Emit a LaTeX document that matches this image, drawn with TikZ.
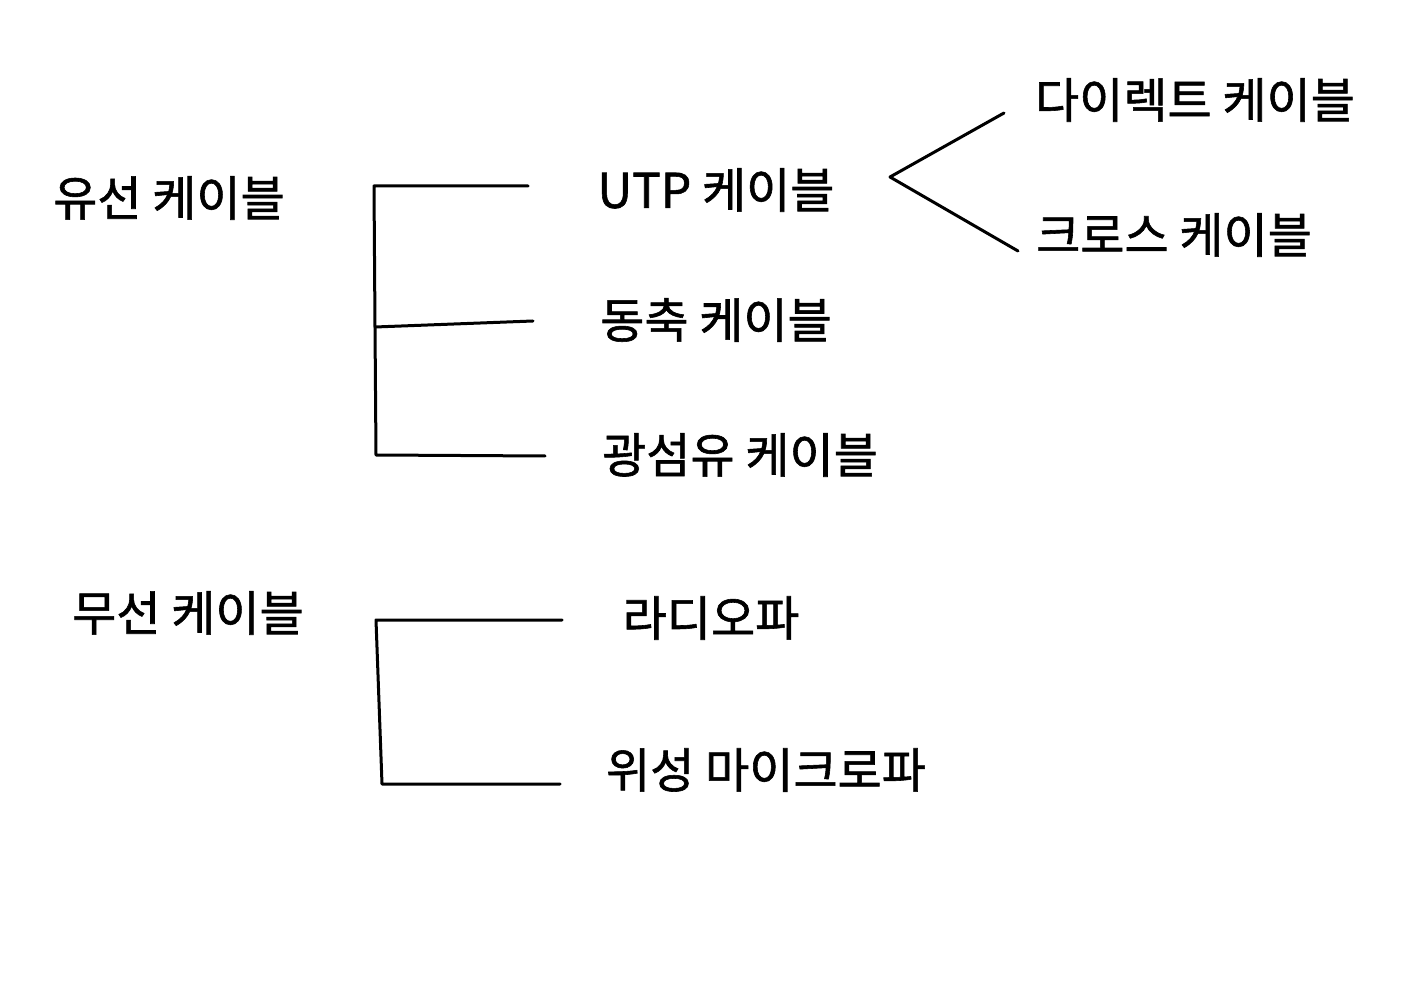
\documentclass[tikz,border=0pt]{standalone}
\usepackage{fontspec}
\newfontfamily\kr[FakeBold=1.2]{Noto Sans CJK KR}
\begin{document}
\begin{tikzpicture}[x=0.5pt,y=-0.5pt,
  lbl/.style={font=\kr\fontsize{24}{27}\selectfont, inner sep=0pt, anchor=center},
  ln/.style={line width=1.5pt, line cap=round, line join=round}]
\useasboundingbox[fill=white] (0,0) rectangle (1415,1000);
% labels
\node[lbl] (wired) at (169,198) {유선 케이블};
\node[lbl] (wireless) at (188,613) {무선 케이블};
\node[lbl] (utp) at (716,190) {UTP 케이블};
\node[lbl] (coax) at (716,320) {동축 케이블};
\node[lbl] (fiber) at (740,455) {광섬유 케이블};
\node[lbl] (direct) at (1195,100) {다이렉트 케이블};
\node[lbl] (cross) at (1174,235) {크로스 케이블};
\node[lbl] (radio) at (711,618) {라디오파};
\node[lbl] (micro) at (766,770) {위성 마이크로파};
% wired tree
\coordinate (wt) at (374,186);
\coordinate (wm) at (375,327);
\coordinate (wb) at (376,455);
\coordinate (e1) at (528,186);
\coordinate (e2) at (533,321);
\coordinate (e3) at (545,456);
\draw[ln] (e1) -- (wt) -- (wm) -- (wb) -- (e3);
\draw[ln] (wm) -- (e2);
% UTP fork
\coordinate (fk) at (890,177);
\coordinate (f1) at (1004,113);
\coordinate (f2) at (1018,251);
\draw[ln] (f1) -- (fk) -- (f2);
% wireless tree
\coordinate (rt) at (376,620);
\coordinate (rb) at (382,784);
\coordinate (r1) at (562,620);
\coordinate (r2) at (560,784);
\draw[ln] (r1) -- (rt) -- (rb) -- (r2);
\end{tikzpicture}
\end{document}
